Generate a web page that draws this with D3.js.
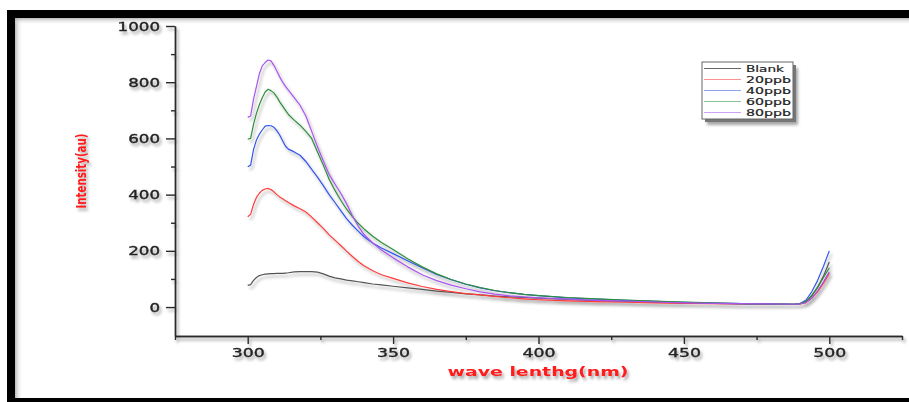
<!DOCTYPE html>
<html>
<head>
<meta charset="utf-8">
<script src="https://cdn.jsdelivr.net/npm/d3@7"></script>
<style>
  html, body { margin: 0; padding: 0; background: #fff; }
  svg { display: block; }
</style>
</head>
<body>
<svg id="chart" width="909" height="402"></svg>
<script>
// wavelength grid (nm) shared by all spectra
const wavelengths = [300, 301, 302, 303, 304, 305, 306, 307, 308, 309, 310, 311, 312, 313, 314, 316, 318, 320,
  322, 324, 326, 328, 330, 332, 334, 336, 338, 340, 343, 346, 350, 355, 360, 365, 370, 375, 380, 385, 390, 395,
  400, 410, 420, 430, 440, 450, 460, 470, 480, 488, 490, 492, 494, 496, 498, 500];

const blank = [77, 80, 95, 105, 112, 115, 117, 118, 119, 119, 120, 120, 120, 121, 122, 125, 126, 126,
  126, 124, 118, 110, 104, 100, 96, 93, 90, 87, 82, 79, 74, 68, 63, 57, 52, 47, 43, 39, 36, 34,
  32, 27, 23, 20, 17, 15, 13, 11, 10, 10, 12, 20, 40, 70, 110, 160];

const ppb20 = [321, 330, 365, 390, 405, 415, 420, 422, 418, 410, 400, 392, 385, 378, 372, 360, 350, 338,
  320, 300, 280, 257, 238, 219, 199, 180, 162, 147, 129, 115, 102, 86, 73, 63, 55, 48, 43, 38, 33, 29,
  26, 22, 19, 17, 15, 13, 12, 11, 10, 10, 11, 16, 32, 55, 85, 120];

const ppb40 = [499, 505, 560, 594, 615, 630, 644, 646, 645, 640, 628, 612, 592, 572, 562, 552, 540, 518,
  490, 462, 432, 400, 372, 343, 315, 291, 270, 250, 228, 210, 190, 165, 140, 116, 97, 81, 68, 58, 51, 45,
  41, 33, 28, 24, 20, 17, 14, 12, 11, 10, 13, 25, 55, 95, 145, 200];

const ppb60 = [597, 600, 650, 689, 720, 745, 765, 775, 770, 762, 748, 730, 715, 700, 685, 665, 647, 625,
  600, 552, 505, 455, 415, 380, 348, 322, 298, 278, 252, 230, 205, 172, 143, 118, 98, 82, 69, 59, 51, 45,
  41, 34, 29, 25, 21, 18, 15, 12, 11, 10, 12, 20, 42, 72, 105, 140];

const ppb80 = [675, 680, 740, 784, 830, 858, 870, 879, 876, 860, 840, 819, 800, 785, 772, 745, 718, 680,
  625, 570, 520, 472, 438, 405, 368, 325, 288, 258, 228, 203, 175, 143, 115, 94, 78, 65, 54, 46, 40, 36,
  33, 28, 24, 21, 18, 15, 13, 12, 11, 10, 11, 16, 32, 58, 90, 125];

const seriesNames = ["Blank", "20ppb", "40ppb", "60ppb", "80ppb"];
const seriesColors = ["#555555", "#ff3b3b", "#3355ee", "#2f8f3a", "#a855ee"];
const seriesValues = [blank, ppb20, ppb40, ppb60, ppb80];

const xMajorTicks = [300, 350, 400, 450, 500];
const xMinorTicks = [275, 325, 375, 425, 475, 525];
const yMajorTicks = [0, 200, 400, 600, 800, 1000];
const yMinorTicks = [100, 300, 500, 700, 900];

const svg = d3.select("#chart");
const defs = svg.append("defs");

const shadow = defs.append("filter").attr("id", "shadow")
  .attr("x", "-20%").attr("y", "-20%").attr("width", "140%").attr("height", "160%");
shadow.append("feDropShadow")
  .attr("dx", 2).attr("dy", 3).attr("stdDeviation", 1.8)
  .attr("flood-color", "#000").attr("flood-opacity", 0.35);

const inner = defs.append("linearGradient").attr("id", "leftShade").attr("x1", 0).attr("x2", 1);
inner.append("stop").attr("offset", 0).attr("stop-color", "#999").attr("stop-opacity", 0.7);
inner.append("stop").attr("offset", 1).attr("stop-color", "#fff").attr("stop-opacity", 0);
const innerTop = defs.append("linearGradient").attr("id", "topShade").attr("x1", 0).attr("x2", 0).attr("y1", 0).attr("y2", 1);
innerTop.append("stop").attr("offset", 0).attr("stop-color", "#999").attr("stop-opacity", 0.7);
innerTop.append("stop").attr("offset", 1).attr("stop-color", "#fff").attr("stop-opacity", 0);

// frame
svg.append("rect").attr("x", 15).attr("y", 18).attr("width", 8).attr("height", 380).attr("fill", "url(#leftShade)");
svg.append("rect").attr("x", 15).attr("y", 18).attr("width", 894).attr("height", 7).attr("fill", "url(#topShade)");
svg.append("rect").attr("x", 7).attr("y", 10).attr("width", 902).attr("height", 8).attr("fill", "#000");
svg.append("rect").attr("x", 7).attr("y", 10).attr("width", 8).attr("height", 392).attr("fill", "#000");
svg.append("rect").attr("x", 7).attr("y", 398).attr("width", 902).attr("height", 4).attr("fill", "#000");

const x = d3.scaleLinear().domain([275, 525]).range([175, 902]);
const y = d3.scaleLinear().domain([-103, 1000]).range([336, 26]);

const axes = svg.append("g").attr("filter", "url(#shadow)");

const xAxis = axes.append("g").attr("transform", "translate(0,336)")
  .call(d3.axisBottom(x).tickValues(xMajorTicks).tickSize(8).tickSizeOuter(0).tickPadding(4).tickFormat(d3.format("d")));
axes.append("g").attr("transform", "translate(0,336)")
  .call(d3.axisBottom(x).tickValues(xMinorTicks).tickSize(4).tickSizeOuter(0).tickFormat(""));

const yAxis = axes.append("g").attr("transform", "translate(175,0)")
  .call(d3.axisLeft(y).tickValues(yMajorTicks).tickSize(9).tickSizeOuter(0).tickPadding(6).tickFormat(d3.format("d")));
axes.append("g").attr("transform", "translate(175,0)")
  .call(d3.axisLeft(y).tickValues(yMinorTicks).tickSize(4).tickSizeOuter(0).tickFormat(""));

axes.selectAll(".domain, .tick line").attr("stroke", "#2a2a2a").attr("stroke-width", 1.4);
axes.selectAll("text").attr("fill", "#222").attr("stroke", "#222").attr("stroke-width", 0.35)
  .style("font-family", "'DejaVu Sans', sans-serif").style("font-size", "12.5px");
xAxis.selectAll("text").attr("textLength", 33).attr("lengthAdjust", "spacingAndGlyphs");
yAxis.selectAll("text").each(function (d) {
  d3.select(this).attr("textLength", String(d).length * 10.6).attr("lengthAdjust", "spacingAndGlyphs");
});

// axis titles
axes.append("text").attr("x", 538).attr("y", 376).attr("text-anchor", "middle")
  .attr("fill", "#ff1a1a").style("font-family", "'DejaVu Sans', sans-serif")
  .style("font-size", "13px").style("font-weight", "bold")
  .attr("textLength", 181).attr("lengthAdjust", "spacingAndGlyphs")
  .text("wave lenthg(nm)");

axes.append("text").attr("transform", "translate(86,171) rotate(-90)").attr("text-anchor", "middle")
  .attr("fill", "#ff1a1a").style("font-family", "'DejaVu Sans', sans-serif")
  .style("font-size", "14px").style("font-weight", "bold")
  .attr("textLength", 75).attr("lengthAdjust", "spacingAndGlyphs")
  .text("Intensity(au)");

// spectra
const line = d3.line().x((d, i) => x(wavelengths[i])).y(d => y(d)).curve(d3.curveLinear);
const plot = svg.append("g").attr("filter", "url(#shadow)");
seriesValues.forEach((vals, k) => {
  plot.append("path").datum(vals)
    .attr("fill", "none").attr("stroke", seriesColors[k]).attr("stroke-width", 1.2)
    .attr("stroke-linejoin", "round").attr("d", line);
});

// legend
const legend = svg.append("g").attr("transform", "translate(702,62)");
legend.append("rect").attr("x", 3).attr("y", 3).attr("width", 91).attr("height", 57)
  .attr("fill", "#777").attr("filter", "url(#shadow)");
legend.append("rect").attr("width", 91).attr("height", 57)
  .attr("fill", "#fff").attr("stroke", "#666").attr("stroke-width", 1);
seriesNames.forEach((name, k) => {
  const yy = 6.5 + k * 11;
  legend.append("line").attr("x1", 2).attr("x2", 39).attr("y1", yy).attr("y2", yy)
    .attr("stroke", seriesColors[k]).attr("stroke-opacity", k === 0 ? 0.9 : 0.55).attr("stroke-width", 1.2);
  legend.append("text").attr("x", 44).attr("y", yy + 3.5)
    .attr("fill", "#222").attr("stroke", "#222").attr("stroke-width", 0.2)
    .style("font-family", "'DejaVu Sans', sans-serif").style("font-size", "9.5px")
    .attr("textLength", name === "Blank" ? 38 : 45).attr("lengthAdjust", "spacingAndGlyphs")
    .text(name);
});
</script>
</body>
</html>
